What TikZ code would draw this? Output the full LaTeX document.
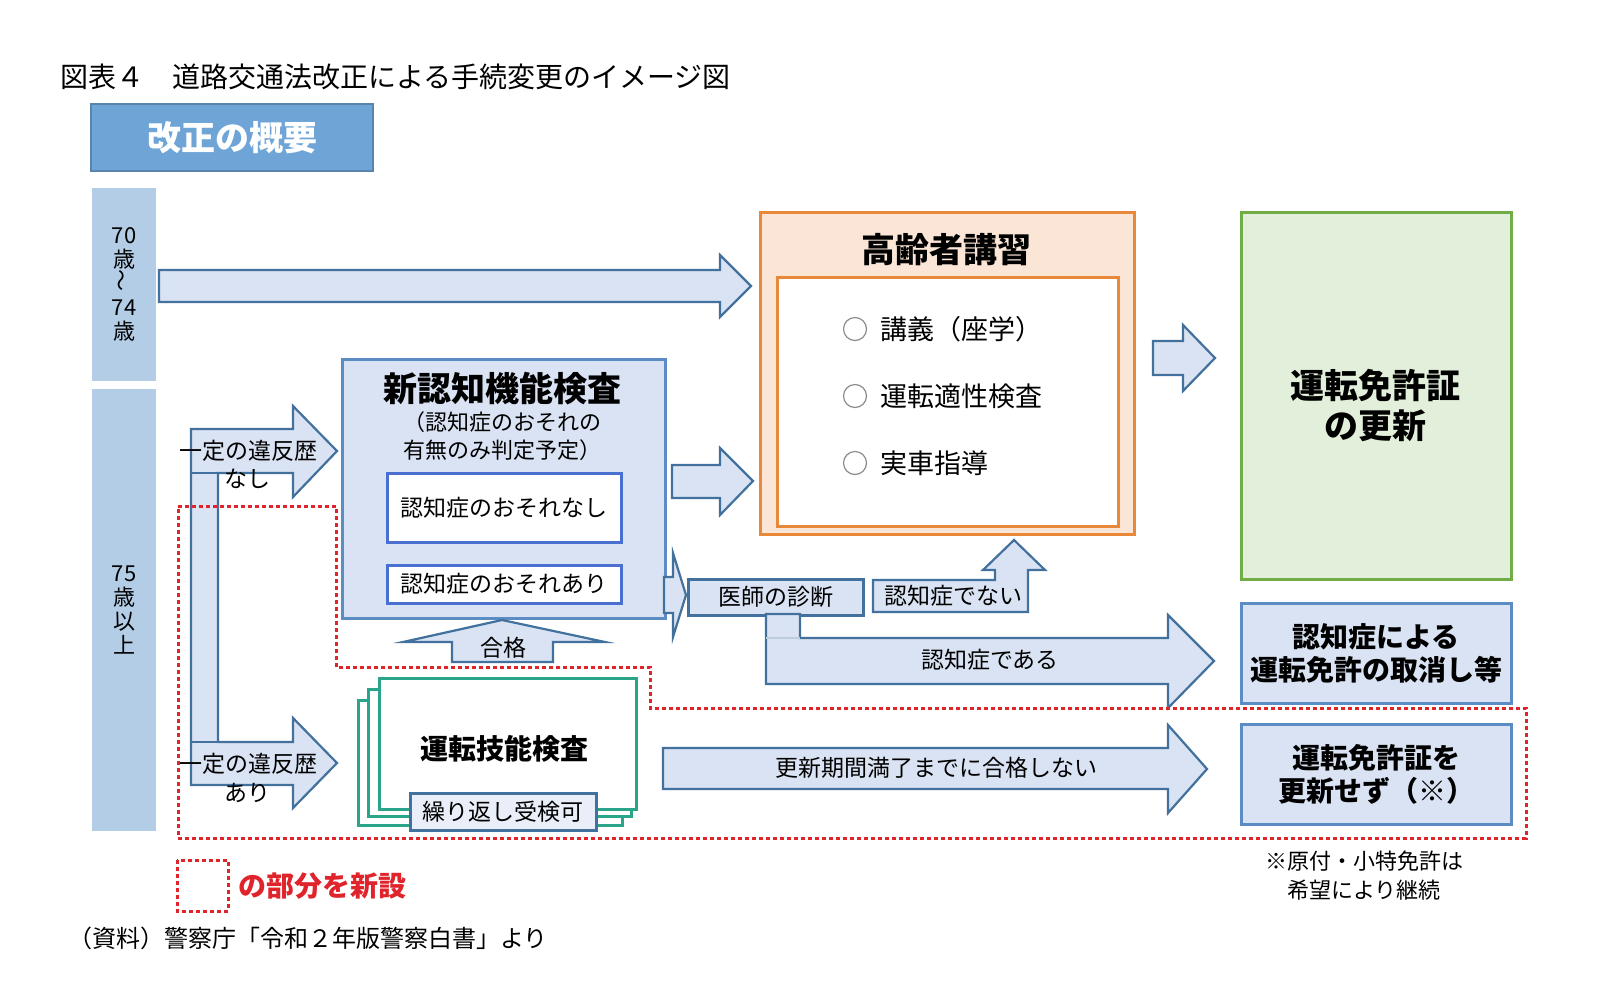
\documentclass[tikz,border=0pt]{standalone}
\usepackage{fontspec}
\setmainfont{Noto Sans CJK JP}
\usetikzlibrary{positioning}
\definecolor{lineblue}{HTML}{41719C}
\definecolor{boxline}{HTML}{5B8CC4}
\definecolor{boxblue}{HTML}{DAE3F3}
\definecolor{barblue}{HTML}{B4CDE6}
\definecolor{headblue}{HTML}{6FA5D6}
\definecolor{peach}{HTML}{FBE5D6}
\definecolor{orangeline}{HTML}{E8893A}
\definecolor{lightgreen}{HTML}{E2EFDA}
\definecolor{greenline}{HTML}{70AD47}
\definecolor{tealline}{HTML}{2BA58A}
\definecolor{newred}{HTML}{E0242C}
\begin{document}
\begin{tikzpicture}[x=1pt,y=-1pt,
  txt/.style={font=\fontsize{23}{29}\selectfont, inner sep=0, align=center},
  midtxt/.style={font=\fontsize{28}{33}\selectfont\bfseries, inner sep=0, align=center},
  bigtxt/.style={font=\fontsize{34}{40}\selectfont\bfseries, inner sep=0, align=center},
  barrow/.style={draw=lineblue, fill=boxblue, line width=2.2pt},
  bluebox/.style={draw=boxline, fill=boxblue, line width=2.5pt, anchor=north west, inner sep=0},
  agebar/.style={fill=barblue, anchor=north west, inner sep=0, font=\fontsize{22}{24}\selectfont, align=center},
  skillbox/.style={draw=tealline, fill=white, line width=2.5pt, anchor=north west},
  newpart/.style={draw=newred, line width=3pt, dash pattern=on 4pt off 3pt},
  ring/.style={circle, draw=black!45, line width=1.2pt, minimum size=23pt, inner sep=0},
]
\useasboundingbox (0,0) rectangle (1613,1002);

\node[anchor=west, inner sep=0, font=\fontsize{28}{30}\selectfont] (title) at (60,77) {図表４　道路交通法改正による手続変更のイメージ図};
\node[draw=headblue!80!black, fill=headblue, line width=2pt, anchor=north west, minimum width=282pt, minimum height=67pt, text=white, font=\fontsize{34}{40}\selectfont\bfseries] (gaiyo) at (90,103) {改正の概要};

\node[agebar, minimum width=64pt, minimum height=193pt] (age70) at (92,188) {70\\歳\\\rotatebox{90}{～}\\74\\歳};
\node[agebar, minimum width=64pt, minimum height=442pt] (age75) at (92,389) {75\\歳\\以\\上};

\draw[barrow] (159,270) -- (720,270) -- (720,255) -- (751,286) -- (720,317) -- (720,302) -- (159,302) -- cycle;

\node[draw=orangeline, fill=peach, line width=2.5pt, anchor=north west, minimum width=374pt, minimum height=322pt] (koshu) at (759,211) {};
\node[draw=orangeline, fill=white, line width=3pt, anchor=north west, minimum width=341pt, minimum height=249pt] (koshuin) at (776,276) {};
\node[bigtxt] (koshutitle) at (946,250) {高齢者講習};
\node[ring] (r1) at (855,329) {};
\node[ring] (r2) at (855,396) {};
\node[ring] (r3) at (855,463) {};
\node[anchor=west, inner sep=0, font=\fontsize{27}{30}\selectfont] (k1) at (880,329) {講義（座学）};
\node[anchor=west, inner sep=0, font=\fontsize{27}{30}\selectfont] (k2) at (880,396) {運転適性検査};
\node[anchor=west, inner sep=0, font=\fontsize{27}{30}\selectfont] (k3) at (880,463) {実車指導};

\draw[barrow] (1153,341) -- (1183,341) -- (1183,325) -- (1215,358) -- (1183,391) -- (1183,375) -- (1153,375) -- cycle;
\node[draw=greenline, fill=lightgreen, line width=2.5pt, anchor=north west, minimum width=270pt, minimum height=367pt] (koshin) at (1240,211) {};
\node[bigtxt] (koshintxt) at (1375,405) {運転免許証\\の更新};

\node[bluebox, minimum width=323pt, minimum height=259pt] (ninchi) at (341,358) {};
\node[bigtxt] (ninchititle) at (502,389) {新認知機能検査};
\node[font=\fontsize{22}{28}\selectfont, inner sep=0, align=center] (ninchisub) at (502,436) {（認知症のおそれの\\有無のみ判定予定）};
\node[draw=boxline!80!blue, fill=white, line width=2.5pt, anchor=north west, minimum width=234pt, minimum height=69pt, txt] (nashi) at (386,472) {認知症のおそれなし};
\node[draw=boxline!80!blue, fill=white, line width=2.5pt, anchor=north west, minimum width=234pt, minimum height=38pt, txt] (ari) at (386,564) {認知症のおそれあり};

\draw[barrow] (672,465) -- (720,465) -- (720,448) -- (753,481) -- (720,515) -- (720,498) -- (672,498) -- cycle;
\draw[barrow] (664,577) -- (673,577) -- (673,553) -- (686,595) -- (673,637) -- (673,613) -- (664,613) -- cycle;

\node[bluebox, draw=lineblue, minimum width=175pt, minimum height=36pt, txt] (ishi) at (687,578) {医師の診断};
\draw[barrow] (873,580) -- (995,580) -- (995,570) -- (983,570) -- (1014,540) -- (1045,570) -- (1028,570) -- (1028,612) -- (873,612) -- cycle;
\node[txt] (nai) at (953,596) {認知症でない};
\draw[barrow] (800,614) -- (800,638) -- (1168,638) -- (1168,615) -- (1214,661) -- (1168,708) -- (1168,684) -- (766,684) -- (766,614) -- cycle;
\draw[lineblue!35, line width=1.2pt] (766,638) -- (800,638);
\node[txt] (dearu) at (990,660) {認知症である};
\node[bluebox, minimum width=270pt, minimum height=100pt, midtxt] (torikeshi) at (1240,602) {認知症による\\運転免許の取消し等};

\draw[barrow] (191,429) -- (293,429) -- (293,406) -- (337,451) -- (293,497) -- (293,473) -- (218,473) -- (218,742) -- (293,742) -- (293,718) -- (337,763) -- (293,808) -- (293,785) -- (191,785) -- cycle;
\draw[lineblue, line width=1.2pt] (191,473) -- (218,473) (191,742) -- (218,742);

\node[skillbox, minimum width=264pt, minimum height=125pt] (gino3) at (357,699) {};
\node[skillbox, minimum width=263pt, minimum height=127pt] (gino2) at (367,688) {};
\node[skillbox, minimum width=257pt, minimum height=131pt] (gino) at (378,677) {};
\node[midtxt] (ginotxt) at (504,749) {運転技能検査};
\node[bluebox, draw=lineblue, fill=boxblue!60, minimum width=186pt, minimum height=37pt, txt] (kurikaeshi) at (409,792) {繰り返し受検可};

\draw[barrow] (452,662) -- (452,642) -- (403,642) -- (502,620) -- (605,642) -- (553,642) -- (553,662) -- cycle;
\node[txt] (gokaku) at (503,648) {合格};

\draw[barrow] (663,748) -- (1168,748) -- (1168,725) -- (1207,769) -- (1168,813) -- (1168,789) -- (663,789) -- cycle;
\node[txt] (mangaku) at (936,768) {更新期間満了までに合格しない};
\node[bluebox, minimum width=270pt, minimum height=100pt, midtxt] (sezu) at (1240,723) {運転免許証を\\更新せず（※）};

\draw[newpart] (178,506) -- (336,506) -- (336,667) -- (650,667) -- (650,708) -- (1526,708) -- (1526,838) -- (178,838) -- cycle;

\node[txt] (ihan1) at (248,451) {一定の違反歴};
\node[txt] (nashi1) at (247,479) {なし};
\node[txt] (ihan2) at (248,764) {一定の違反歴};
\node[txt] (ari2) at (247,793) {あり};

\node[font=\fontsize{22}{29}\selectfont, inner sep=0, align=center] (chu) at (1364,876) {※原付・小特免許は\\希望により継続};

\draw[newpart] (177,860) rectangle (228,911);
\node[anchor=west, inner sep=0, text=newred, font=\fontsize{28}{30}\selectfont\bfseries] (shinsetsu) at (238,886) {の部分を新設};
\node[anchor=west, inner sep=0, font=\fontsize{24}{26}\selectfont] (shiryo) at (68,938) {（資料）警察庁「令和２年版警察白書」より};
\end{tikzpicture}
\end{document}
